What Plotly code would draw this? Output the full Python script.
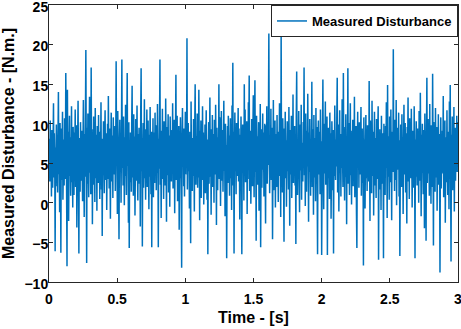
import plotly.graph_objects as go

t_start = 0.0
t_end = 3.0

disturbance = [
    5.3, 8.1, 2.7, 10.4, 3.9, 6.6, 0.8, 9.2, 4.5, 1.9, 7.7, 12.6, 3.2, 8.8, 5.9, -6.1, 7.0, 2.1, 9.9, 4.8,
    6.4, 1.3, 8.5, 14.0, 3.6, 7.2, -1.2, 10.1, 5.0, -6.3, 9.4, 2.9, 6.8, 11.5, 0.4, 4.3, 8.0, 2.2, 10.7, 5.6,
    3.0, 16.4, 7.4, 1.6, -8.0, 14.3, 4.1, 9.0, -2.3, 6.1, 11.0, 3.4, 8.3, 0.9, 5.2, 12.2, 2.6, 7.9, -0.6, 9.6,
    4.7, 1.0, 8.9, 5.5, 11.8, 2.0, 6.9, 9.8, -3.1, 4.0, 7.5, 12.9, 3.7, -6.4, 8.2, 5.8, 1.4, 10.2, 6.3, 2.8,
    9.1, 4.4, 0.2, 7.1, 13.0, 5.1, -1.8, 8.7, 3.3, 10.6, 19.3, 6.0, -7.6, 9.5, 2.4, 11.3, 4.9, 0.7, 7.6, 13.4,
    3.8, 8.4, 1.1, 17.1, 5.4, 9.3, -2.7, 6.5, 2.3, 10.9, 4.6, 7.8, 0.1, 12.0, 5.7, 3.1, 8.6, -1.0, 9.7, 6.2,
    2.5, 11.1, 4.2, 7.3, 0.5, 9.0, 5.3, 12.7, 1.7, 6.7, -4.2, 8.1, 3.5, 10.3, 5.0, 1.2, 7.9, 11.7, 2.9, 6.0,
    8.8, -0.9, 5.6, 10.0, 3.0, 13.5, 6.4, 1.8, 9.4, 4.3, -2.0, 7.4, 11.4, 2.7, 5.9, 8.5, 0.6, 10.8, 4.1, 7.0,
    3.6, 9.7, 1.5, 6.2, 17.9, 4.8, 8.0, -1.4, 11.6, 5.2, 2.1, -4.6, 7.7, 10.5, 3.9, 6.6, 0.0, 9.2, 18.1, 4.4,
    7.2, 2.2, 10.9, 5.5, -0.3, 8.3, 3.4, 12.4, 6.1, 1.0, 9.6, 16.4, 4.7, 7.5, -2.5, 10.2, -5.7, 5.8, 2.6, 8.9,
    6.3, 1.4, 9.9, 14.8, 3.2, 7.1, 0.9, 11.2, 5.1, 8.4, -1.6, 4.5, 10.6, 2.8, 6.9, 12.3, 3.7, 0.3, 8.7, 5.4,
    9.5, 2.4, 7.6, -3.0, 11.0, 17.0, 4.0, 8.2, -5.5, 6.5, 10.1, 1.9, 5.3, 13.1, 3.1, 7.8, 0.4, 9.3, 4.9, 11.8,
    2.0, 6.8, 10.4, 4.6, -0.8, 8.6, 3.3, 12.1, 5.7, 1.1, 9.0, -5.6, 7.3, 4.2, 10.7, 0.7, 6.0, 8.9, 2.5, 11.4,
    5.2, 9.8, 1.6, 7.0, 3.8, 12.5, 6.7, -5.6, 8.1, 4.3, 10.0, 18.1, 2.3, 6.4, -1.9, 9.1, 5.5, 11.9, 3.0, 7.6,
    0.5, 10.3, 4.7, 8.0, 2.2, 13.2, 6.1, -2.4, 9.6, 3.5, 7.4, 11.2, 1.3, 5.8, 8.5, -0.5, 10.9, 4.1, 6.9, 2.7,
    9.2, 5.0, 12.6, 1.8, 7.7, 3.9, 10.5, -1.3, 6.3, 8.8, 16.2, 2.9, 5.6, 11.0, 0.2, 7.2, 4.4, 9.7, -3.4, 6.6,
    3.1, 10.8, 5.9, 1.0, -8.2, 8.3, 12.0, 4.6, 7.0, 2.1, 9.4, 0.8, 6.2, 11.5, 3.6, 8.6, 5.1, 20.8, 1.7, 7.9,
    10.1, 4.0, 6.7, -0.7, 9.0, 2.6, -5.1, 12.8, 5.3, 8.2, 1.5, 7.5, 3.4, 10.6, 6.0, -1.1, 9.8, 15.0, 4.8, 2.3,
    8.4, 5.7, 11.3, 1.9, 7.1, 3.2, 14.3, 6.5, -2.2, 9.1, 4.5, 10.4, 0.6, 7.8, 2.9, 12.2, 5.2, 8.9, -0.2, 6.1,
    3.7, 9.9, 1.2, 7.4, 11.7, 4.9, 0.4, 8.0, -6.5, 5.5, 10.2, 2.4, 6.8, 13.3, 3.3, 7.9, -1.5, 9.3, 4.2, 11.1,
    2.0, 6.4, 8.7, 0.0, 10.5, 5.0, 3.6, 12.4, 7.1, -2.8, 9.5, 4.7, 1.6, 8.3, 5.9, 15.0, 3.0, 10.8, 6.6, -0.4,
    7.5, 11.6, 2.8, 5.4, 9.2, 1.4, 6.9, 12.9, 4.1, 8.1, -1.7, 10.0, 3.5, 7.3, -7.0, 5.8, 9.7, 2.5, 11.0, 4.6,
    8.5, 0.9, 6.0, 10.7, 3.1, 7.7, -0.9, 12.3, 5.1, 17.7, 2.2, 9.0, -6.4, 6.3, 11.4, 4.0, 8.2, 1.1, 10.1, 5.6,
    3.4, 7.0, 12.0, 2.7, 9.4, 5.3, -2.1, 8.6, 4.4, 10.9, 1.8, -6.5, 6.6, 9.9, 3.8, 7.5, 0.3, 15.0, 5.0, 11.8,
    2.6, 8.0, 4.9, 10.3, -1.4, 6.8, 3.0, 12.7, 7.9, 16.1, 1.5, 5.7, 9.1, -0.1, 4.3, 10.6, 6.2, 2.1, 8.8, 13.6,
    5.4, 0.7, 9.6, 15.5, 3.9, 7.2, -4.8, 11.0, 4.6, 8.4, 2.3, 6.1, 10.2, -1.0, 7.6, 3.2, 12.5, -5.6, 5.9, 9.3,
    1.9, 7.0, 11.3, 4.2, 8.9, 0.8, 6.4, 10.0, 3.3, -2.6, 9.8, 5.5, 12.2, 2.4, 7.4, 4.8, 10.5, 21.4, 6.0, 1.2,
    8.3, 4.5, 11.9, 2.9, 6.7, 9.5, -4.6, 5.2, 13.0, 1.6, 7.8, 3.7, 10.4, -0.6, 6.3, 8.7, 2.0, 11.1, 4.9, 7.2,
    0.1, 9.0, 5.8, 12.6, 3.4, 7.5, -1.8, 22.0, 4.4, 8.1, 1.3, 10.7, 6.5, 2.8, -4.9, 9.4, 5.0, 11.5, 3.1, 7.9,
    -0.5, 6.2, 10.3, 4.0, 8.6, 1.7, 12.1, 5.6, -2.9, 9.2, 3.6, 7.1, 11.0, 0.6, 6.9, 4.3, 13.7, 2.5, 8.4, 5.3,
    9.7, 2.2, 7.3, -5.2, 10.8, 16.6, 4.7, 1.0, 8.0, 5.5, 11.6, 3.0, -1.2, 6.8, 9.9, 4.1, 12.4, 0.4, 7.6, 5.1,
    2.7, 10.2, 6.2, 17.1, 3.5, 8.5, -0.4, 11.3, 5.0, 1.4, 9.1, 4.6, 13.8, 7.0, -2.4, 8.9, 3.9, 10.6, 6.4, 0.9,
    7.7, 4.3, 15.3, 2.0, 9.3, 5.9, -1.5, 11.1, 3.2, 8.2, 6.6, 0.2, 12.0, 4.8, 9.6, 1.8, -6.5, 7.4, 10.4, 3.6,
    5.7, 9.0, 1.1, 11.8, 4.5, 7.8, -6.6, 2.6, 8.6, 15.6, 5.2, -0.8, 10.0, 3.7, 6.9, 12.8, 2.3, 8.3, 4.0, 10.9,
    -6.6, 6.0, 9.5, 3.1, 7.2, 0.5, 11.4, 5.4, 8.8, -2.0, 4.2, 10.3, 6.7, 1.6, 9.2, -6.4, 7.9, 3.4, 12.3, 5.8,
    2.9, 8.0, 4.6, 10.7, 15.8, 1.3, 6.5, 9.9, -1.1, 5.1, 11.7, 3.8, 7.3, 0.8, 8.7, 4.4, 13.1, 6.1, 2.0, 16.4,
    5.6, 9.6, 0.3, 7.0, 3.3, 11.2, 6.2, -2.7, 8.4, 4.9, 17.0, 2.4, 10.1, 5.9, 1.0, 7.7, 12.6, 3.5, 9.1, -0.2,
    6.9, 4.1, 10.5, 2.1, 8.1, 5.3, 13.4, 0.7, 7.5, 3.0, 9.7, -1.3, -5.7, 6.4, 11.5, 4.5, 8.6, 1.9, 10.2, 5.0,
    3.6, 7.8, 12.1, 0.9, 6.3, 9.4, 2.5, 5.7, -7.9, 10.8, 4.3, 8.0, -0.7, 6.6, 11.1, 3.1, 7.4, 1.5, 9.8, 5.2,
    8.9, 2.7, 15.4, 6.0, -2.3, 10.4, 4.7, 7.6, 1.2, 12.9, 5.5, 3.4, 9.0, -1.6, 6.8, 11.5, 2.2, 8.2, 4.9, 0.6,
    10.6, 5.9, 3.0, 8.5, 12.2, -7.2, 6.3, 1.7, 9.3, 4.0, 7.1, -0.9, 11.0, 5.6, 2.4, 8.8, 6.5, -7.0, 10.0, 3.5,
    7.0, 1.0, 9.7, 4.4, 12.7, 6.2, -1.9, 14.9, 3.3, 8.4, 5.1, 0.4, 10.9, 7.6, 2.6, 11.8, 4.6, -2.2, 9.0, 6.0,
    3.9, 19.4, 5.3, 8.1, 1.5, 10.5, 6.7, 2.9, 13.0, -0.3, 7.3, 4.2, 9.5, 5.7, 11.4, 0.8, 7.9, -6.7, 3.4, 9.9,
    6.1, 2.0, 11.2, 4.8, 8.3, -1.4, 7.0, 12.4, 3.6, 5.4, 10.1, 1.3, 8.8, 4.3, -2.6, 9.6, 6.4, 13.3, 2.7, 7.5,
    0.5, 10.7, 5.0, 8.5, 3.1, 11.9, 6.6, -0.6, 9.1, 4.0, 7.8, 1.9, 12.2, 5.8, -7.0, 8.0, 3.3, 10.3, 6.2, 2.2,
    9.4, 4.6, 7.1, 0.0, 11.6, 5.5, 2.8, 13.9, 6.9, -1.7, 8.6, 3.8, 10.0, 5.2, 1.1, 9.2, 7.3, -3.2, 11.3, 4.1,
    6.8, -4.8, 8.9, 15.8, 2.5, 7.5, 10.6, 3.7, 5.6, 0.9, 12.5, 4.4, 8.0, -0.1, 9.8, 6.2, 2.0, 16.3, 7.0, -5.4,
    10.2, 4.9, 8.4, 1.4, 12.0, 6.0, 3.2, 9.6, -1.0, 7.7, 5.1, 11.2, 2.3, 8.7, 4.5, -8.8, 6.6, 10.8, 1.8, 7.2,
    3.7, 9.1, 5.8, 13.5, 0.7, 7.9, 4.2, 10.4, -2.5, 6.5, 8.3, 2.6, 11.7, 5.3, 1.0, 9.0, 6.1, -0.8, 12.8, 4.7,
    14.9, 3.0, -7.4, 8.6, 5.6, 10.9, 1.6, 7.4, 4.0, 12.1, -1.1, 6.3, 9.5, 2.8, 7.8, 5.0, 11.0, 3.9, 10.2, 6.7,
]

n = len(disturbance)
time = [t_start + (t_end - t_start) * i / (n - 1) for i in range(n)]

x_ticks = [0, 0.5, 1, 1.5, 2, 2.5, 3]
x_tick_labels = ["0", "0.5", "1", "1.5", "2", "2.5", "3"]
y_ticks = [-10, -5, 0, 5, 10, 15, 20, 25]

font_family = "Liberation Sans, Arial, sans-serif"
axis_color = "#262626"

fig = go.Figure()
fig.add_trace(go.Scatter(
    x=time, y=disturbance, mode="lines",
    name="Measured Disturbance",
    line=dict(color="#0072BD", width=1.5, simplify=False),
))

axis_common = dict(
    showline=True, linecolor=axis_color, linewidth=1, mirror="allticks",
    ticks="inside", ticklen=4, tickcolor=axis_color, showgrid=False, zeroline=False,
    automargin=False, ticklabeloverflow="allow",
    tickfont=dict(family=font_family, size=14, color="black", weight="bold"),
)

fig.update_xaxes(
    range=[0, 3], tickvals=x_ticks, ticktext=x_tick_labels, ticklabelstandoff=4,
    title=dict(text="Time - [s]", font=dict(family=font_family, size=16, color="black", weight="bold"), standoff=6),
    **axis_common,
)
fig.update_yaxes(
    range=[-10, 25], tickvals=y_ticks, ticklabelstandoff=-3, ticklabelshift=2,
    title=dict(text="Measured Disturbance - [N.m.]", font=dict(family=font_family, size=16, color="black", weight="bold"), standoff=6),
    **axis_common,
)

fig.update_layout(
    width=461, height=329,
    margin=dict(l=49, r=3, t=5, b=47),
    paper_bgcolor="white", plot_bgcolor="white",
    showlegend=True,
    legend=dict(
        x=1, y=1, xanchor="right", yanchor="top",
        bgcolor="white", bordercolor=axis_color, borderwidth=1,
        font=dict(family=font_family, size=13, color="black", weight="bold"),
    ),
)

fig.write_html("out.html", config={"displayModeBar": False},
               post_script="document.body.style.margin='0';")
